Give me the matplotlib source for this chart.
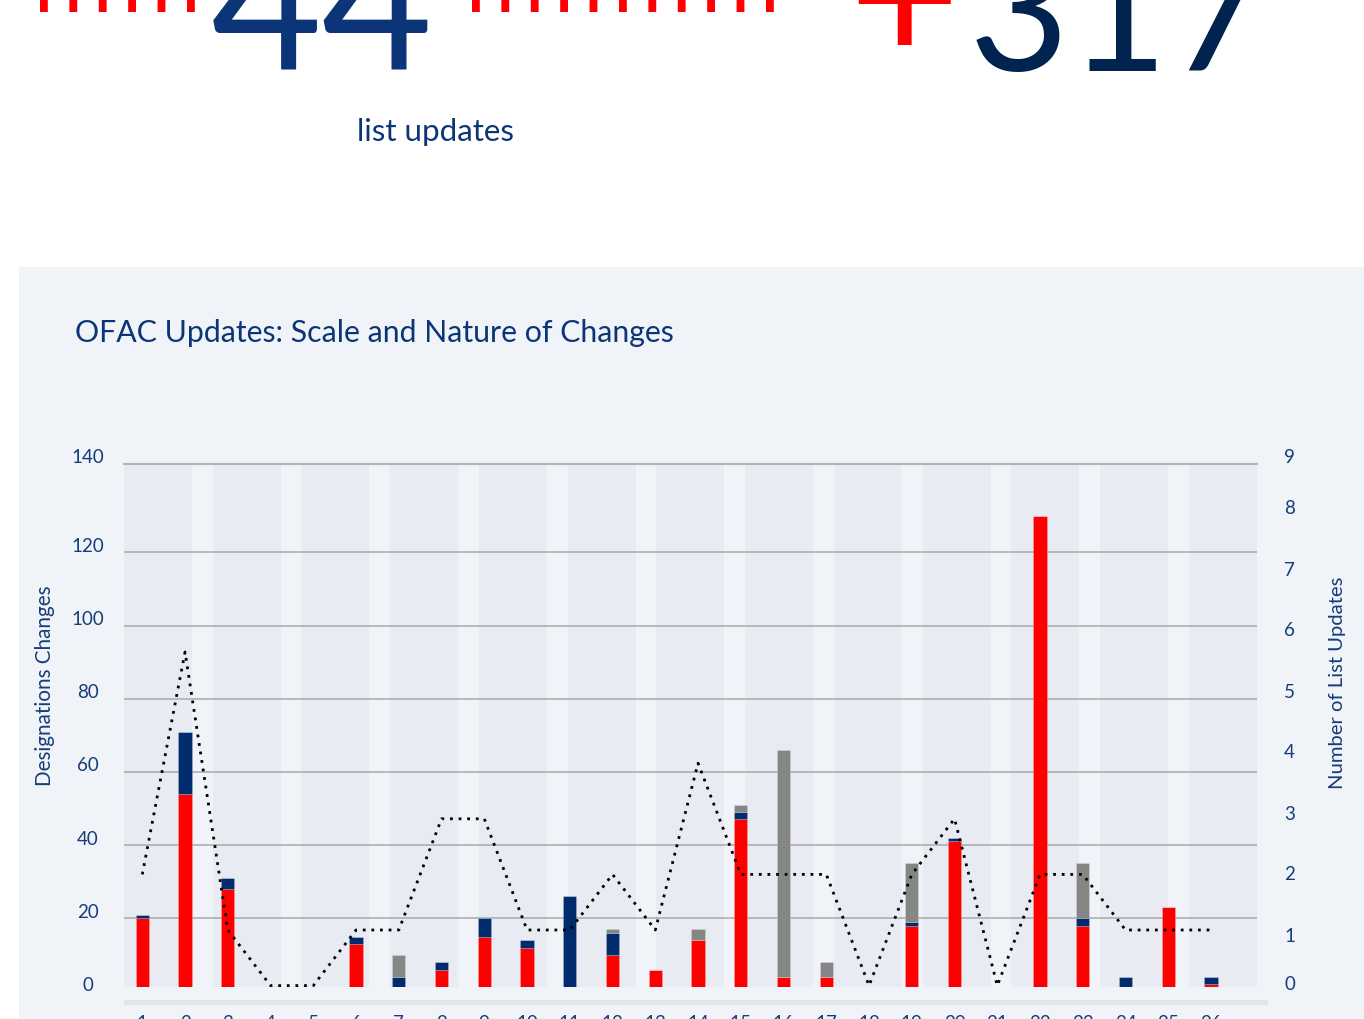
import matplotlib
matplotlib.use("Agg")
import matplotlib.pyplot as plt
from matplotlib.patches import Rectangle
from matplotlib.lines import Line2D
from matplotlib.textpath import TextPath
from matplotlib.font_manager import FontProperties

# ---- data ----
periods = list(range(1, 27))
added = [20, 54, 28, 0, 0, 13, 0, 6, 15, 12, 0, 10, 6, 14, 47, 4, 4, 0, 18, 41, 0, 130, 18, 0, 23, 2]
removed = [1, 17, 3, 0, 0, 2, 4, 2, 5, 2, 26, 6, 0, 0, 2, 0, 0, 0, 1, 1, 0, 0, 2, 4, 0, 2]
amended = [0, 0, 0, 0, 0, 0, 6, 0, 0, 0, 0, 1, 0, 3, 2, 62, 4, 0, 16, 0, 0, 0, 15, 0, 0, 0]
list_updates = [2, 6, 1, 0, 0, 1, 1, 3, 3, 1, 1, 2, 1, 4, 2, 2, 2, 0, 2, 3, 0, 2, 2, 1, 1, 1]
left_ticks = [0, 20, 40, 60, 80, 100, 120, 140]
right_ticks = list(range(10))
headline_count = "44"
headline_change = "317"

# ---- layout (pixels of the 1364x1019 canvas) ----
W, H, DPI = 1364, 1019, 100
FONT = "Lato"
PLOT_L, PLOT_R, PLOT_TOP, PLOT_BOT = 124, 1256.7, 464, 987
BAR_X0, BAR_STEP = 142.3, 42.75
LEFT_ZERO, LEFT_SCALE = 991.5, 3.66      # row of 0, px per designation
RIGHT_ZERO, RIGHT_SCALE = 985.6, 55.6    # row of 0, px per list update

RED, NAVY, GREY = "#ff0000", "#002b6c", "#868686"
PANEL, BAND = "#f0f3f7", "#e8ecf2"
TXT = "#163d79"


def fx(x):
    return x / W


def fy(y):
    return 1 - y / H


def fit_width(t, target, rotated=False):
    r = fig.canvas.get_renderer()
    bb = t.get_window_extent(r)
    cur = bb.height if rotated else bb.width
    t.set_fontsize(t.get_fontsize() * target / cur)


def ink_text(s, left, right, bottom, color):
    # size a big number so its glyph ink spans [left, right] and sits on `bottom`
    ext = TextPath((0, 0), s, size=100, prop=FontProperties(family=FONT)).get_extents()
    fs = 100 * (right - left) / (ext.width * DPI / 72)
    k = fs / 100 * DPI / 72
    base = bottom + ext.y0 * k
    fig.text(fx((left + right) / 2), fy(base), s, fontsize=fs, color=color,
             family=FONT, ha="center", va="baseline")


fig = plt.figure(figsize=(W / DPI, H / DPI), dpi=DPI, facecolor="white")

# grey panel behind the chart + faint x-axis strip
fig.patches.append(Rectangle((fx(19), 0), 1, fy(267), transform=fig.transFigure,
                             facecolor=PANEL, edgecolor="none", zorder=-10))
fig.patches.append(Rectangle((fx(PLOT_L), fy(1005)), fx(1267.7 - PLOT_L), 5 / H,
                             transform=fig.transFigure, facecolor="#e3e7ec",
                             edgecolor="none", zorder=-5))

# ---- headline block ----
for x0, x1 in [(40, 195), (472, 782)]:
    fig.add_artist(Line2D([fx(x0), fx(x1)], [fy(6), fy(6)], transform=fig.transFigure,
                          color=RED, lw=12 * 72 / DPI, dashes=(0.65, 1.8)))
ink_text(headline_count, 215, 430, 70, "#0b3577")
ink_text("+", 858, 950, 45, RED)
ink_text(headline_change, 976, 1262, 72, "#00234f")
t = fig.text(fx(357), fy(141), "list updates", fontsize=19, color="#0b3577",
             family=FONT, ha="left", va="baseline")
fit_width(t, 158)

t = fig.text(fx(75), fy(342), "OFAC Updates: Scale and Nature of Changes", fontsize=20,
             color="#0b3577", family=FONT, ha="left", va="baseline")
fit_width(t, 600)

# ---- chart ----
ax = fig.add_axes([fx(PLOT_L), fy(PLOT_BOT), fx(PLOT_R - PLOT_L), (PLOT_BOT - PLOT_TOP) / H])
ax.set_facecolor(BAND)
xmin = 1 - (BAR_X0 - PLOT_L) / BAR_STEP
xmax = 1 + (PLOT_R - BAR_X0) / BAR_STEP
ax.set_xlim(xmin, xmax)
ax.set_ylim((LEFT_ZERO - PLOT_BOT) / LEFT_SCALE, (LEFT_ZERO - PLOT_TOP) / LEFT_SCALE)

# light stripes between the shaded column pairs
period, dark = 88.73 / BAR_STEP, 68.0 / BAR_STEP
for k in range(12):
    s = xmin + dark + k * period
    ax.axvspan(s, s + period - dark, color=PANEL, lw=0, zorder=0)

ax.set_axisbelow(True)
ax.set_yticks(left_ticks[1:-1])
ax.yaxis.grid(True, color="#a9a9a9", lw=1.1)
ax.tick_params(axis="y", length=0, labelleft=False)
for side in ["left", "right", "bottom"]:
    ax.spines[side].set_visible(False)
ax.spines["top"].set_color("#b3b3b3")
ax.spines["top"].set_linewidth(1.5)

bw = 13.3 / BAR_STEP
base2 = [a + r for a, r in zip(added, removed)]
ax.bar(periods, added, width=bw, color=RED, edgecolor="#ffffff40", lw=0.5, zorder=2)
ax.bar(periods, removed, width=bw, bottom=added, color=NAVY, edgecolor="#ffffff40", lw=0.5, zorder=2)
ax.bar(periods, amended, width=bw, bottom=base2, color=GREY, edgecolor="#ffffff40", lw=0.5, zorder=2)

ax.set_xticks(periods)
ax.set_xticklabels([str(p) for p in periods], fontsize=13.5, color=TXT, family=FONT)
ax.tick_params(axis="x", length=0, pad=20)

ax2 = ax.twinx()
ax2.set_ylim((RIGHT_ZERO - PLOT_BOT) / RIGHT_SCALE, (RIGHT_ZERO - PLOT_TOP) / RIGHT_SCALE)
ax2.plot(periods, list_updates, color="black", lw=2.0, dashes=(1.0, 2.1), zorder=5)
ax2.set_yticks([])
for side in ax2.spines:
    ax2.spines[side].set_visible(False)

# tick labels, drawn where the reference shows them
for v in left_ticks:
    row = PLOT_TOP if v == left_ticks[-1] else LEFT_ZERO - v * LEFT_SCALE
    fig.text(fx(88), fy(row - 6), str(v), fontsize=13.5, color=TXT, family=FONT,
             ha="center", va="center")
for v in right_ticks:
    row = min(max(936 - 61 * (v - 1), PLOT_TOP - 6), 985)
    fig.text(fx(1289.5), fy(row), str(v), fontsize=13.5, color=TXT, family=FONT,
             ha="center", va="center")

t = fig.text(fx(45), fy(685.5), "Designations Changes", rotation=90, fontsize=14,
             color=TXT, family=FONT, ha="center", va="center")
fit_width(t, 200, rotated=True)
t = fig.text(fx(1338), fy(682.7), "Number of List Updates", rotation=90, fontsize=14,
             color=TXT, family=FONT, ha="center", va="center")
fit_width(t, 213, rotated=True)

fig.savefig("out.png", dpi=DPI, facecolor="white")
